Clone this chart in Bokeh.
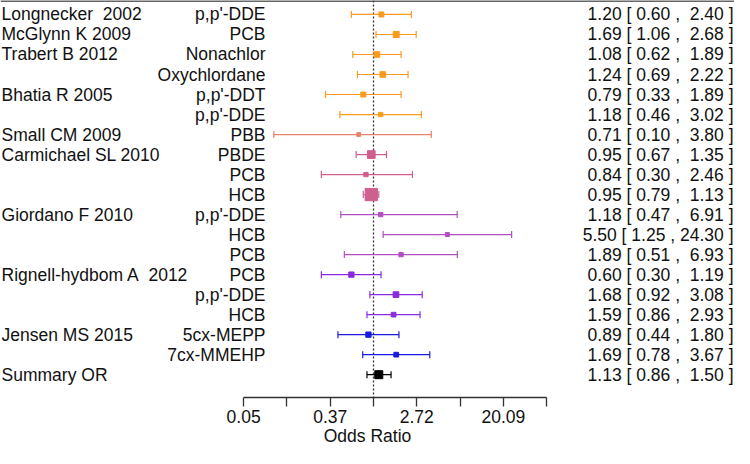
import math
from bokeh.plotting import figure
from bokeh.models import Range1d, Span, FixedTicker, ColumnDataSource
from bokeh.core.properties import value
from bokeh.embed import file_html
from bokeh.resources import INLINE

# ---------------- data ----------------
studies = ["Longnecker\u00a0\u00a02002", "McGlynn K 2009", "Trabert B 2012", "", "Bhatia R 2005", "",
           "Small CM 2009", "Carmichael SL 2010", "", "", "Giordano F 2010", "", "",
           "Rignell-hydbom A\u00a0\u00a02012", "", "", "Jensen MS 2015", ""]
exposures = ["p,p'-DDE", "PCB", "Nonachlor", "Oxychlordane", "p,p'-DDT", "p,p'-DDE",
             "PBB", "PBDE", "PCB", "HCB", "p,p'-DDE", "HCB", "PCB", "PCB", "p,p'-DDE",
             "HCB", "5cx-MEPP", "7cx-MMEHP"]
odds = [1.20, 1.69, 1.08, 1.24, 0.79, 1.18, 0.71, 0.95, 0.84, 0.95, 1.18, 5.50, 1.89,
        0.60, 1.68, 1.59, 0.89, 1.69]
ci_low = [0.60, 1.06, 0.62, 0.69, 0.33, 0.46, 0.10, 0.67, 0.30, 0.79, 0.47, 1.25, 0.51,
          0.30, 0.92, 0.86, 0.44, 0.78]
ci_high = [2.40, 2.68, 1.89, 2.22, 1.89, 3.02, 3.80, 1.35, 2.46, 1.13, 6.91, 24.30, 6.93,
           1.19, 3.08, 2.93, 1.80, 3.67]
summary_label = "Summary OR"
summary_or = 1.13
summary_low = 0.86
summary_high = 1.50
tick_values = [-3, -2, -1, 0, 1, 2, 3, 4]        # natural-log scale
tick_labels = ["0.05", "", "0.37", "", "2.72", "", "20.09", ""]

# ---------------- styles ----------------
group_colors = ["#F99B1F"] * 6 + ["#E8806A"] + ["#CF5F8E"] * 3 + ["#B24FC0"] * 3 + \
               ["#8A2BE2"] * 3 + ["#1A1AE6"] * 2
marker_px = [5, 6, 5.7, 5.7, 5, 4.3, 3.7, 7.7, 4.3, 12.3, 4.3, 4, 4.3, 5.3, 5.7, 4.7, 5.3, 4.7]
FONT = "Liberation Sans"
FS = "17.5px"

n = len(odds)
rows = list(range(1, n + 1))
sum_row = n + 1
Y_BOTTOM, Y_TOP = 20.14, 0.302


def fmt_ci(e, lo, hi):
    ub = f"{hi:.2f}".rjust(5).replace(" ", "\u00a0")
    return f"{e:.2f} [ {lo:.2f} , {ub} ]"


# ---------------- figure ----------------
p = figure(width=734, height=448, output_backend="svg", toolbar_location=None,
           y_axis_location=None, min_border_left=0, min_border_right=0,
           min_border_top=0, min_border_bottom=48)
p.x_range = Range1d(-8.614, 8.337)
p.y_range = Range1d(Y_BOTTOM, Y_TOP)
p.grid.visible = False
p.outline_line_color = None
p.background_fill_color = "white"
p.border_fill_color = "white"

# x axis
ax = p.xaxis[0]
ax.ticker = FixedTicker(ticks=tick_values)
ax.major_label_overrides = {t: l for t, l in zip(tick_values, tick_labels)}
ax.bounds = (tick_values[0], tick_values[-1])
ax.minor_tick_line_color = None
ax.major_tick_in = 0
ax.major_tick_out = 9
ax.major_tick_line_color = "#333333"
ax.major_tick_line_width = 1.3
ax.axis_line_color = "#333333"
ax.axis_line_width = 1.3
ax.major_label_text_font = FONT
ax.major_label_text_font_size = FS
ax.major_label_text_color = "#111111"
ax.major_label_standoff = 3
ax.axis_label = "Odds Ratio"
ax.axis_label_text_font = FONT
ax.axis_label_text_font_size = FS
ax.axis_label_text_font_style = "normal"
ax.axis_label_text_color = "#111111"
ax.axis_label_standoff = 0

# top rule
p.add_layout(Span(location=0.33, dimension="width", line_color="#333333", line_width=1.5))
# reference line at OR = 1 (ln 0), drawn first so markers cover it
p.segment(x0=[0], y0=[Y_TOP], x1=[0], y1=[Y_BOTTOM], line_color="#333333", line_width=1.3,
          line_dash="2 2")

# study rows
src = ColumnDataSource(dict(
    y=rows,
    lo=[math.log(v) for v in ci_low],
    hi=[math.log(v) for v in ci_high],
    est=[math.log(v) for v in odds],
    color=group_colors,
    size=marker_px,
))
p.segment(x0="lo", y0="y", x1="hi", y1="y", source=src, line_color="color", line_width=1.2)
p.scatter(x="lo", y="y", source=src, marker="dash", angle=math.pi / 2, size=7,
          line_color="color", line_width=1.2)
p.scatter(x="hi", y="y", source=src, marker="dash", angle=math.pi / 2, size=7,
          line_color="color", line_width=1.2)
p.scatter(x="est", y="y", source=src, marker="square", size="size",
          fill_color="color", line_color="color", fill_alpha=1.0, line_alpha=1.0)

# summary row
p.segment(x0=[math.log(summary_low)], y0=[sum_row], x1=[math.log(summary_high)], y1=[sum_row],
          line_color="black", line_width=1.2)
p.scatter(x=[math.log(summary_low), math.log(summary_high)], y=[sum_row, sum_row],
          marker="dash", angle=math.pi / 2, size=7, line_color="black", line_width=1.2)
p.scatter(x=[math.log(summary_or)], y=[sum_row], marker="square", size=8,
          fill_color="black", line_color="black")

# text columns
x_study = -8.59
x_expo = -2.494
x_ci = 8.314
p.text(x=[x_study] * (n + 1), y=rows + [sum_row], text=studies + [summary_label],
       text_font=value(FONT), text_font_size=FS, text_baseline="middle", text_align="left",
       text_color="#111111")
p.text(x=[x_expo] * n, y=rows, text=exposures,
       text_font=value(FONT), text_font_size=FS, text_baseline="middle", text_align="right",
       text_color="#111111")
ci_text = [fmt_ci(e, lo, hi) for e, lo, hi in zip(odds, ci_low, ci_high)] + \
          [fmt_ci(summary_or, summary_low, summary_high)]
p.text(x=[x_ci] * (n + 1), y=rows + [sum_row], text=ci_text,
       text_font=value(FONT), text_font_size=FS, text_baseline="middle", text_align="right",
       text_color="#111111")

open("out.html", "w").write(file_html(p, INLINE))
